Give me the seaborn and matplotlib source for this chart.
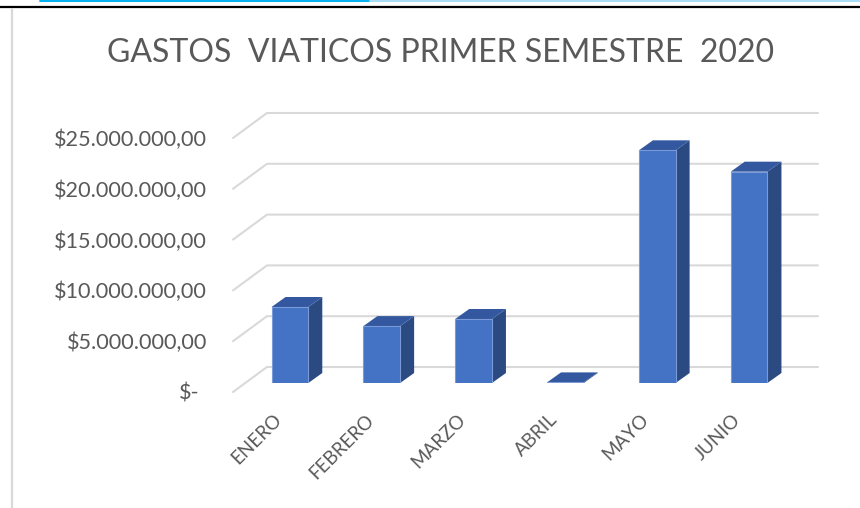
import matplotlib
matplotlib.use('Agg')
import matplotlib.pyplot as plt
from matplotlib.lines import Line2D
from matplotlib.patches import Polygon
import pandas as pd
import seaborn as sns

# data
meses = ['ENERO', 'FEBRERO', 'MARZO', 'ABRIL', 'MAYO', 'JUNIO']
gastos = [7_480_000, 5_600_000, 6_300_000, 60_000, 22_900_000, 20_800_000]
ticks = [0, 5_000_000, 10_000_000, 15_000_000, 20_000_000, 25_000_000]
tick_labels = ['$-', '$5.000.000,00', '$10.000.000,00', '$15.000.000,00',
               '$20.000.000,00', '$25.000.000,00']
titulo = 'GASTOS  VIATICOS PRIMER SEMESTRE  2020'

TXT = '#595959'
FRONT = '#4472C4'
SIDE = '#2C4A82'
TOP = '#3358A0'
GRID = '#D9D9D9'

sns.set_style('white')
plt.rcParams['font.family'] = ['Lato', 'DejaVu Sans']

W, H = 860, 508
fig = plt.figure(figsize=(W / 100, H / 100), dpi=100)
# axes = the plane the bar fronts sit in (pixels 244..795 x, 129..383 y)
ax = fig.add_axes([244 / W, (H - 383) / H, 551 / W, 254 / H])

df = pd.DataFrame({'mes': meses, 'gasto': gastos})
sns.barplot(data=df, x='mes', y='gasto', color=FRONT, width=0.4,
            edgecolor='#7A9AD8', linewidth=0.8, saturation=1, ax=ax, zorder=3)

xmin, xmax = -0.5, len(meses) - 0.5
ymin, ymax = 0, 25_000_000
ax.set_xlim(xmin, xmax)
ax.set_ylim(ymin, ymax)
ax.set_axis_off()

# pixel -> data conversions for the oblique 3d look
px_x = (xmax - xmin) / 551
px_y = (ymax - ymin) / 254


def off(x, y, dx, dy):
    return (x + dx * px_x, y + dy * px_y)


# walls: gridlines from the front edge back to the rear wall
for v in ticks:
    pts = [off(xmin, v, -11, -9), off(xmin, v, 23, 16), off(xmax, v, 23, 16)]
    ax.add_line(Line2D([p[0] for p in pts], [p[1] for p in pts], color=GRID,
                       lw=1.5, zorder=1, clip_on=False, solid_joinstyle='miter'))

# side and top faces of each bar
for p in ax.patches:
    x0, w, h = p.get_x(), p.get_width(), p.get_height()
    x1 = x0 + w
    side = [(x1, 0), (x1, h), off(x1, h, 14, 10), off(x1, 0, 14, 10)]
    top = [(x0, h), (x1, h), off(x1, h, 14, 10), off(x0, h, 14, 10)]
    ax.add_patch(Polygon(side, closed=True, facecolor=SIDE, edgecolor='none',
                         zorder=2.9, clip_on=False))
    ax.add_patch(Polygon(top, closed=True, facecolor=TOP, edgecolor='none',
                         zorder=2.9, clip_on=False))

# y tick labels on the front plane
for v, lab in zip(ticks, tick_labels):
    dx = -44 if v == 0 else -37
    x, y = off(xmin, v, dx, -17)
    ax.text(x, y, lab, ha='right', va='baseline', fontsize=15.6, color=TXT,
            clip_on=False)

# rotated month labels
for i, m in enumerate(meses):
    x, y = off(i, 0, -11, -34)
    ax.text(x, y, m, rotation=45, rotation_mode='anchor', ha='right',
            va='center', fontsize=13.5, color=TXT, clip_on=False)

fig.text(441 / W, 1 - 62 / H, titulo, ha='center', va='baseline',
         fontsize=23, color=TXT)

# frame decorations around the chart
fig.add_artist(Line2D([0, 1], [1 - 7 / H] * 2, color='black', lw=1.6))
fig.add_artist(Line2D([40 / W, 370 / W], [1 - 0.8 / H] * 2, color='#00B0F0', lw=1.4))
fig.add_artist(Line2D([370 / W, 1], [1 - 0.8 / H] * 2, color='#A6DDF5', lw=1.4))
fig.add_artist(Line2D([11.5 / W] * 2, [0, 1 - 9 / H], color=GRID, lw=1.6))

fig.savefig('out.png', dpi=100)
